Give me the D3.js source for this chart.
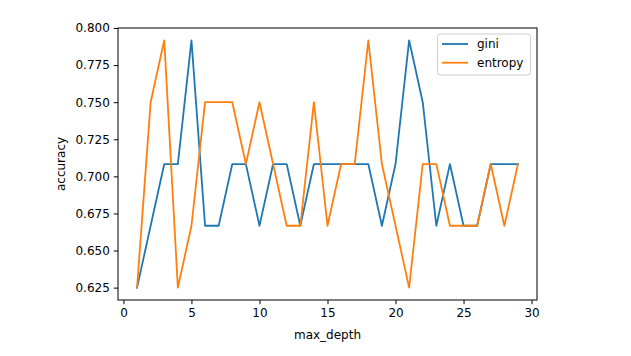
<!DOCTYPE html>
<html><head><meta charset="utf-8">
<script src="https://cdn.jsdelivr.net/npm/d3@7"></script>
<style>html,body{margin:0;padding:0;background:#fff;}svg{display:block;}</style>
</head><body>
<script>
const maxDepth = d3.range(1, 30);
const gini = [0.625,0.6667,0.7083,0.7083,0.7917,0.6667,0.6667,0.7083,0.7083,0.6667,
              0.7083,0.7083,0.6667,0.7083,0.7083,0.7083,0.7083,0.7083,0.6667,0.7083,
              0.7917,0.75,0.6667,0.7083,0.6667,0.6667,0.7083,0.7083,0.7083];
const entropy = [0.625,0.75,0.7917,0.625,0.6667,0.75,0.75,0.75,0.7083,0.75,
                 0.7083,0.6667,0.6667,0.75,0.6667,0.7083,0.7083,0.7917,0.7083,0.6667,
                 0.625,0.7083,0.7083,0.6667,0.6667,0.6667,0.7083,0.6667,0.7083];
const xTicks = [0,5,10,15,20,25,30];
const yTicks = [0.625,0.650,0.675,0.700,0.725,0.750,0.775,0.800];
const seriesNames = ["gini","entropy"];
const colors = ["#1f77b4","#ff7f0e"];

const W = 631, H = 356;
const L = 118, R = 537, T = 28, B = 300;
const svg = d3.select("body").append("svg").attr("width", W).attr("height", H);
const font = "DejaVu Sans, sans-serif";

const x = d3.scaleLinear().domain([-0.4, 30.4]).range([L, R]);
const y = d3.scaleLinear().domain([0.616667, 0.8]).range([B, T]);

const line = d3.line().x((d,i) => x(maxDepth[i])).y(d => y(d));
[gini, entropy].forEach((s, k) => {
  svg.append("path").datum(s).attr("d", line).attr("fill","none")
    .attr("stroke", colors[k]).attr("stroke-width", 1.8)
    .attr("stroke-linejoin","round").attr("stroke-linecap","square");
});

const xAxis = svg.append("g").attr("transform", `translate(0,${B})`)
  .call(d3.axisBottom(x).tickValues(xTicks).tickFormat(d3.format("d")).tickSize(4.2).tickPadding(4));
const yAxis = svg.append("g").attr("transform", `translate(${L},0)`)
  .call(d3.axisLeft(y).tickValues(yTicks).tickFormat(d3.format(".3f")).tickSize(4.2).tickPadding(4));
[xAxis, yAxis].forEach(g => {
  g.select(".domain").remove();
  g.selectAll("text").attr("font-family", font).attr("font-size", 12).attr("fill", "#000");
  g.selectAll("line").attr("stroke", "#000").attr("stroke-width", 1);
});

svg.append("rect").attr("x", L).attr("y", T).attr("width", R-L).attr("height", B-T)
  .attr("fill","none").attr("stroke","#000").attr("stroke-width",1);

svg.append("text").attr("x", (L+R)/2).attr("y", 338.5).attr("text-anchor","middle")
  .attr("font-family", font).attr("font-size", 12).text("max_depth");
svg.append("text").attr("transform", `translate(65,${(T+B)/2}) rotate(-90)`)
  .attr("text-anchor","middle").attr("font-family", font).attr("font-size", 12).text("accuracy");

const lg = svg.append("g");
lg.append("rect").attr("x", 437.5).attr("y", 34).attr("width", 93).attr("height", 41)
  .attr("rx", 2.5).attr("fill","#fff").attr("fill-opacity",0.8)
  .attr("stroke","#ccc").attr("stroke-width",1);
seriesNames.forEach((n, k) => {
  const yy = 44 + k*18.7;
  lg.append("line").attr("x1", 442).attr("x2", 468).attr("y1", yy).attr("y2", yy)
    .attr("stroke", colors[k]).attr("stroke-width", 1.8);
  lg.append("text").attr("x", 477).attr("y", yy + 4.3).attr("font-family", font)
    .attr("font-size", 12).text(n);
});
</script>
</body></html>
